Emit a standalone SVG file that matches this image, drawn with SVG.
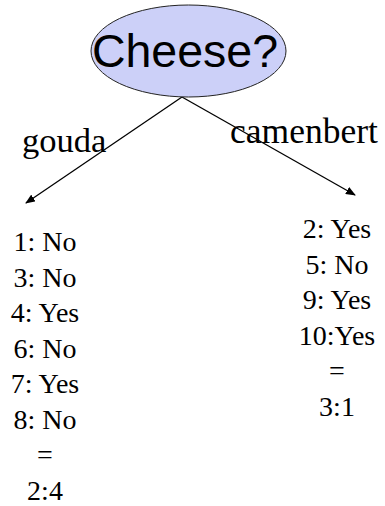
<svg xmlns="http://www.w3.org/2000/svg" width="385" height="506" viewBox="0 0 385 506">
<style>
.lbl{font-family:"Liberation Serif","Times New Roman",serif;fill:#000}
.leaf{font-family:"Liberation Serif","Times New Roman",serif;font-size:28px;fill:#000;text-anchor:middle}
.edge{stroke:#000;stroke-width:1.3;fill:none;marker-end:url(#ah)}
</style>
<defs>
<marker id="ah" markerWidth="10" markerHeight="8" refX="9" refY="4" orient="auto" markerUnits="userSpaceOnUse">
<path d="M0,0 L10,4 L0,8 Z" fill="#000"/>
</marker>
</defs>
<rect width="385" height="506" fill="#fff"/>
<g id="connectors">
<line class="edge" x1="182" y1="97" x2="26" y2="203"/>
<line class="edge" x1="182" y1="97" x2="355" y2="195"/>
</g>
<g id="root">
<ellipse cx="188.5" cy="51" rx="97.5" ry="46" fill="#ccd0f8" stroke="#222" stroke-width="1"/>
<text x="185" y="67" font-family="'Liberation Sans',Arial,sans-serif" font-size="46.5" text-anchor="middle">Cheese?</text>
</g>
<g id="label-gouda">
<text class="lbl" x="22" y="152" font-size="34.5">gouda</text>
</g>
<g id="label-camenbert">
<text class="lbl" x="230" y="143" font-size="35.5">camenbert</text>
</g>
<g id="leaf-gouda">
<text class="leaf" x="45" y="251">1: No</text>
<text class="leaf" x="45" y="286.5">3: No</text>
<text class="leaf" x="45" y="322">4: Yes</text>
<text class="leaf" x="45" y="357.5">6: No</text>
<text class="leaf" x="45" y="393">7: Yes</text>
<text class="leaf" x="45" y="428.5">8: No</text>
<text class="leaf" x="45" y="464">=</text>
<text class="leaf" x="45" y="499.5">2:4</text>
</g>
<g id="leaf-camenbert">
<text class="leaf" x="337" y="238">2: Yes</text>
<text class="leaf" x="337" y="273.5">5: No</text>
<text class="leaf" x="337" y="309">9: Yes</text>
<text class="leaf" x="337" y="344.5">10:Yes</text>
<text class="leaf" x="337" y="380">=</text>
<text class="leaf" x="337" y="415.5">3:1</text>
</g>
</svg>
